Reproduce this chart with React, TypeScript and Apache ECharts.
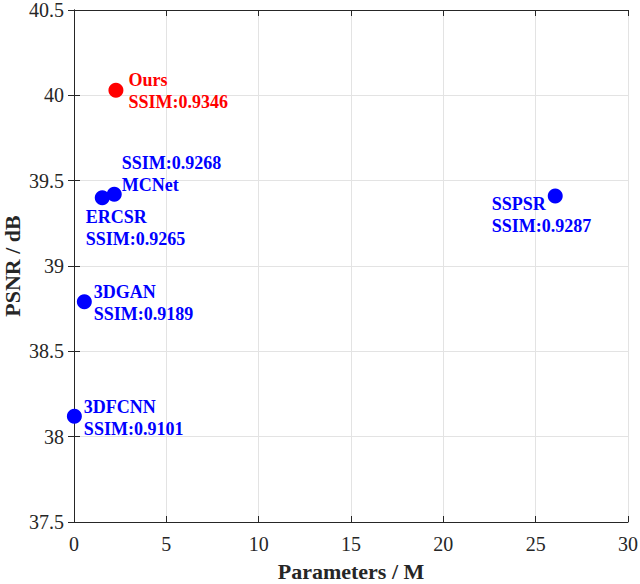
import React, { useEffect, useRef } from "react";
import * as echarts from "echarts";

const methods = ["Ours", "MCNet", "ERCSR", "3DGAN", "3DFCNN", "SSPSR"];
const params = [2.27, 2.18, 1.53, 0.56, 0.02, 26.06];
const psnr = [40.03, 39.42, 39.4, 38.79, 38.12, 39.41];
const ssim = ["0.9346", "0.9268", "0.9265", "0.9189", "0.9101", "0.9287"];
const xTicks = [0, 5, 10, 15, 20, 25, 30];
const yTicks = [37.5, 38, 38.5, 39, 39.5, 40, 40.5];

const FONT = "'Liberation Serif', 'Times New Roman', serif";

// label layout (relative to the symbol's bounding box) and text order per method
const labelLayout: Record<string, { pos: [number, number]; ssimFirst: boolean }> = {
  Ours: { pos: [20, 8], ssimFirst: false },
  MCNet: { pos: [15, -13], ssimFirst: true },
  ERCSR: { pos: [-9, 38], ssimFirst: false },
  "3DGAN": { pos: [17, 9], ssimFirst: false },
  "3DFCNN": { pos: [17, 9], ssimFirst: false },
  SSPSR: { pos: [-56, 26], ssimFirst: false },
};

export default function App() {
  const ref = useRef<HTMLDivElement>(null);
  useEffect(() => {
    if (!ref.current) return;
    const chart = echarts.init(ref.current, undefined, { renderer: "svg" });
    const data = methods.map((m, i) => {
      const color = m === "Ours" ? "#ff0000" : "#0000ff";
      const lay = labelLayout[m];
      const lines = lay.ssimFirst
        ? `SSIM:${ssim[i]}\n${m}`
        : `${m}\nSSIM:${ssim[i]}`;
      return {
        name: m,
        value: [params[i], psnr[i]],
        itemStyle: { color, opacity: 1 },
        label: {
          show: true,
          position: lay.pos,
          formatter: lines,
          color,
          fontFamily: FONT,
          fontWeight: "bold",
          fontSize: 18,
          lineHeight: 22,
          align: "left",
          verticalAlign: "middle",
        },
      };
    });
    const axisLine = { show: true, lineStyle: { color: "#262626", width: 1 } };
    const axisTick = { show: true, inside: true, length: 6, lineStyle: { color: "#262626" } };
    chart.setOption({
      animation: false,
      backgroundColor: "#ffffff",
      grid: { left: 74, top: 10, right: 12, bottom: 62, containLabel: false, outerBoundsMode: "none" },
      xAxis: [
        {
          type: "value",
          min: xTicks[0],
          max: xTicks[xTicks.length - 1],
          interval: 5,
          position: "bottom",
          name: "Parameters / M",
          nameLocation: "middle",
          nameGap: 38,
          nameMoveOverlap: false,
          nameTextStyle: { fontFamily: FONT, fontWeight: "bold", fontSize: 22, lineHeight: 22, color: "#262626" },
          axisLine,
          axisTick,
          axisLabel: { fontFamily: FONT, fontSize: 20, color: "#262626", margin: 12 },
          splitLine: { show: true, lineStyle: { color: "#e3e3e3", width: 1 } },
        },
        {
          type: "value",
          min: xTicks[0],
          max: xTicks[xTicks.length - 1],
          interval: 5,
          position: "top",
          axisLine,
          axisTick,
          axisLabel: { show: false },
          splitLine: { show: false },
        },
      ],
      yAxis: [
        {
          type: "value",
          min: yTicks[0],
          max: yTicks[yTicks.length - 1],
          interval: 0.5,
          position: "left",
          name: "PSNR / dB",
          nameLocation: "middle",
          nameGap: 51,
          nameMoveOverlap: false,
          nameTextStyle: { fontFamily: FONT, fontWeight: "bold", fontSize: 22, lineHeight: 22, color: "#262626" },
          axisLine,
          axisTick,
          axisLabel: { fontFamily: FONT, fontSize: 20, color: "#262626", margin: 10 },
          splitLine: { show: true, lineStyle: { color: "#e3e3e3", width: 1 } },
        },
        {
          type: "value",
          min: yTicks[0],
          max: yTicks[yTicks.length - 1],
          interval: 0.5,
          position: "right",
          axisLine,
          axisTick,
          axisLabel: { show: false },
          splitLine: { show: false },
        },
      ],
      series: [
        {
          type: "scatter",
          symbol: "circle",
          symbolSize: 15,
          itemStyle: { opacity: 1 },
          data,
        },
      ],
    });
    return () => chart.dispose();
  }, []);
  return <div ref={ref} style={{ width: 640, height: 584, position: "absolute", left: 0, top: 0 }} />;
}
